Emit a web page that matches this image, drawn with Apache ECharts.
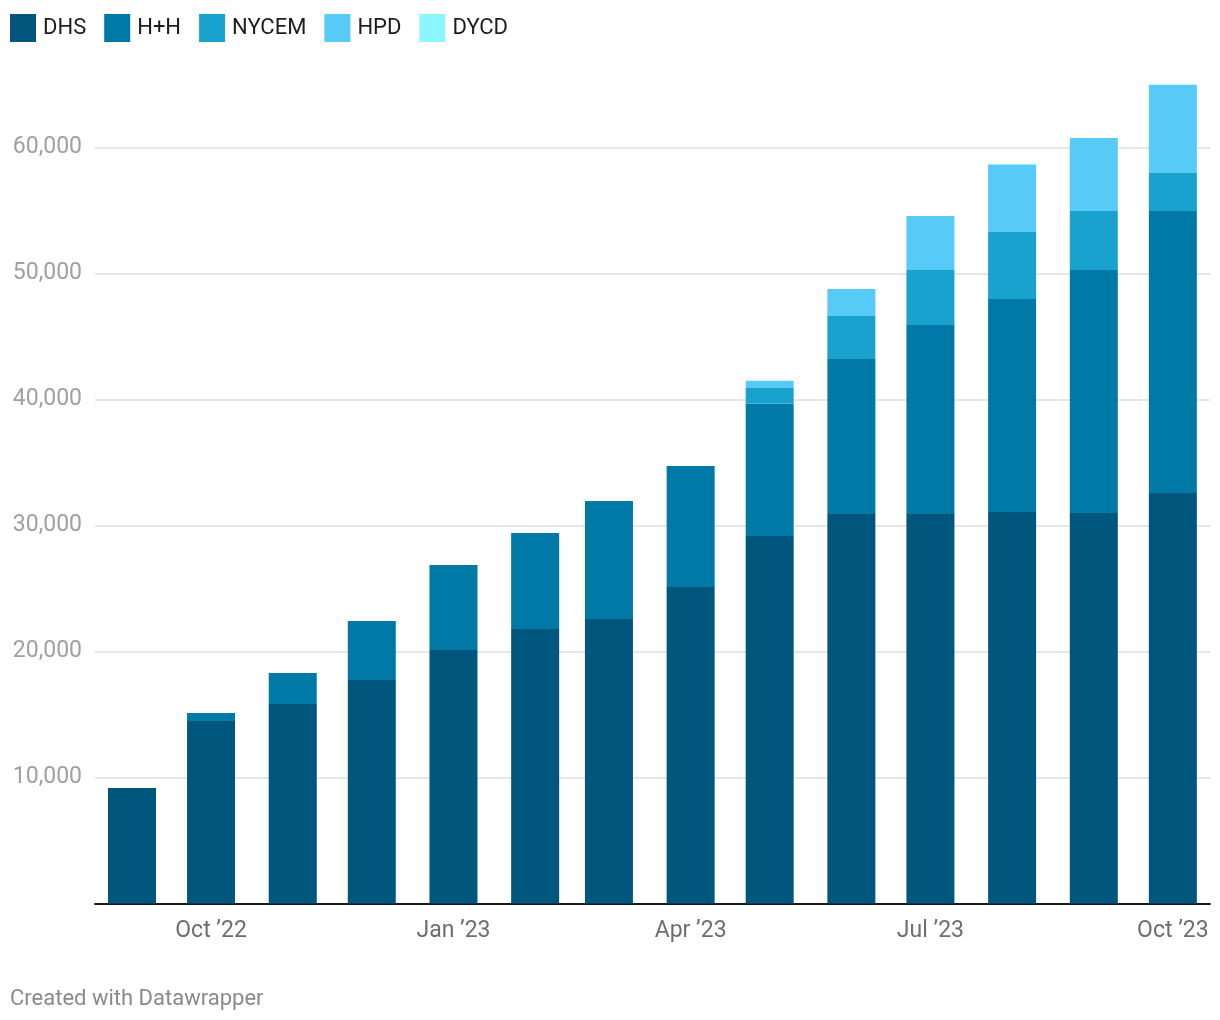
<!DOCTYPE html>
<html>
<head>
<meta charset="utf-8">
<script src="https://cdn.jsdelivr.net/npm/echarts@6/dist/echarts.min.js"></script>
<style>
  html, body { margin: 0; padding: 0; background: #fff; }
  #chart { width: 1220px; height: 1020px; }
</style>
</head>
<body>
<div id="chart"></div>
<script>
// ---- Data ----
const months = ['2022-09-01','2022-10-01','2022-11-01','2022-12-01','2023-01-01','2023-02-01','2023-03-01',
                '2023-04-01','2023-05-01','2023-06-01','2023-07-01','2023-08-01','2023-09-01','2023-10-01'];
const seriesNames = ['DHS', 'H+H', 'NYCEM', 'HPD', 'DYCD'];
const DHS   = [9170, 14480, 15830, 17740, 20120, 21790, 22580, 25120, 29170, 30910, 30910, 31070, 30990, 32580];
const HH    = [0, 640, 2460, 4680, 6750, 7620, 9360, 9600, 10500, 12300, 15000, 16900, 19290, 22380];
const NYCEM = [0, 0, 0, 0, 0, 0, 0, 0, 1250, 3410, 4370, 5320, 4680, 3020];
const HPD   = [0, 0, 0, 0, 0, 0, 0, 0, 560, 2140, 4290, 5320, 5790, 6980];
const DYCD  = [0, 0, 0, 0, 0, 0, 0, 0, 0, 0, 0, 80, 0, 80];
const xTickDates = ['2022-10-01', '2023-01-01', '2023-04-01', '2023-07-01', '2023-10-01'];
const yTicks = [10000, 20000, 30000, 40000, 50000, 60000];
const colors = ['#01567d', '#0179a6', '#1aa2ce', '#58caf8', '#8cf5fe'];

// ---- Helpers ----
const toMs = s => { const [y, m, d] = s.split('-').map(Number); return Date.UTC(y, m - 1, d); };
const DAY = 86400000;
const monthAbbr = ['Jan','Feb','Mar','Apr','May','Jun','Jul','Aug','Sep','Oct','Nov','Dec'];
const xs = months.map(toMs);
const valuesBySeries = [DHS, HH, NYCEM, HPD, DYCD];
const xMin = xs[0] - 14.04 * DAY;
const xMax = xs[xs.length - 1] + 14.1 * DAY;

const chart = echarts.init(document.getElementById('chart'), null, { renderer: 'canvas' });
chart.setOption({
  animation: false,
  color: colors,
  textStyle: { fontFamily: 'Roboto' },
  legend: {
    left: 10, top: 14, padding: 0,
    itemWidth: 26, itemHeight: 28, itemGap: 18,
    icon: 'rect',
    textStyle: { fontSize: 22, color: '#1d1d1d', fontFamily: 'Roboto', padding: [0, 0, 4, 2] },
    data: seriesNames
  },
  grid: { left: 95, right: 10, top: 84.5, bottom: 116.5, containLabel: false },
  xAxis: {
    type: 'value',
    min: xMin, max: xMax,
    axisLine: { show: true, onZero: false, lineStyle: { color: '#1a1a1a', width: 2 } },
    axisTick: { show: false },
    splitLine: { show: false },
    axisLabel: {
      customValues: xTickDates.map(toMs),
      formatter: v => { const d = new Date(v); return monthAbbr[d.getUTCMonth()] + ' \u2019' + String(d.getUTCFullYear()).slice(2); },
      fontSize: 23, color: '#6e6e6e', margin: 16, fontFamily: 'Roboto'
    }
  },
  yAxis: {
    type: 'value',
    min: 0, max: 65000, interval: 10000,
    axisLine: { show: false },
    axisTick: { show: false },
    splitLine: { show: true, showMinLine: false, showMaxLine: false, lineStyle: { color: '#e6e6e6', width: 2 } },
    axisLabel: {
      showMaxLabel: false,
      formatter: v => yTicks.includes(v) ? v.toLocaleString('en-US') : '',
      fontSize: 23, color: '#a0a0a0', margin: 13, fontFamily: 'Roboto'
    }
  },
  // rows are [value, date] so the value column is the one that gets stacked
  series: seriesNames.map((name, i) => ({
    name, type: 'bar', stack: 'total', barWidth: 48,
    encode: { x: 1, y: 0 },
    itemStyle: { color: colors[i] },
    data: xs.map((x, j) => [valuesBySeries[i][j], x])
  })),
  graphic: [{
    type: 'text', left: 10, top: 988,
    style: { text: 'Created with Datawrapper', fontSize: 22, fill: '#8a8a8a', fontFamily: 'Roboto' }
  }]
});
</script>
</body>
</html>
